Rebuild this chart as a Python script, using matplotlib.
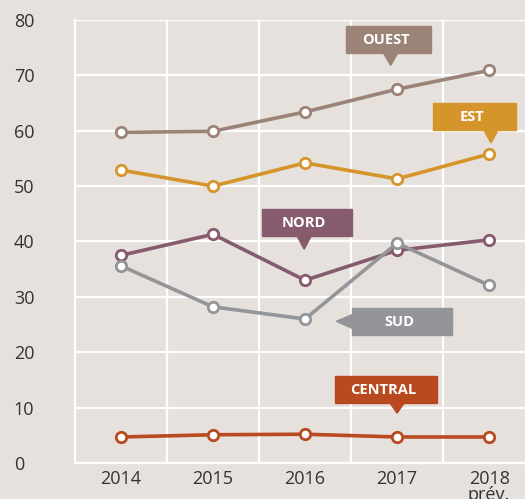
import numpy as np
import matplotlib.pyplot as plt
from matplotlib.patches import Polygon

annees = ["2014", "2015", "2016", "2017", "2018\nprév."]
ouest = [59.7, 59.9, 63.4, 67.5, 70.9]
est = [52.9, 50.0, 54.2, 51.3, 55.8]
nord = [37.5, 41.3, 33.0, 38.4, 40.3]
sud = [35.6, 28.2, 26.0, 39.7, 32.1]
central = [4.7, 5.1, 5.2, 4.7, 4.7]

fond = "#e6e1dd"
couleurs = {"OUEST": "#9b8477", "EST": "#d6952b", "NORD": "#855b6d",
            "SUD": "#939598", "CENTRAL": "#b94a1f"}
series = {"OUEST": ouest, "EST": est, "NORD": nord, "SUD": sud, "CENTRAL": central}

# position des étiquettes : (x0, x1, y0, y1, pointe_x, pointe_y, sens)
etiquettes = {
    "OUEST": (2.45, 3.37, 74.0, 78.9, 2.93, 71.8, "bas"),
    "EST": (3.39, 4.29, 60.1, 65.0, 4.02, 57.8, "bas"),
    "NORD": (1.53, 2.51, 41.0, 45.8, 1.99, 38.6, "bas"),
    "SUD": (2.51, 3.60, 23.1, 28.0, 2.34, 25.6, "gauche"),
    "CENTRAL": (2.32, 3.43, 10.8, 15.7, 3.0, 9.0, "bas"),
}

plt.rcParams['font.family'] = ['Open Sans', 'DejaVu Sans']

fig = plt.figure(figsize=(5.25, 4.99), dpi=100)
fig.patch.set_facecolor(fond)
ax = fig.add_axes([75 / 525, 1 - 463 / 499, 450 / 525, 443 / 499])
ax.set_facecolor(fond)

x = np.arange(len(annees))
for nom, vals in series.items():
    ax.plot(x, vals, color=couleurs[nom], lw=2.6, marker="o", ms=7.5,
            mfc="white", mec=couleurs[nom], mew=2, zorder=3)

# étiquettes en forme de bulle
for nom, (x0, x1, y0, y1, px, py, sens) in etiquettes.items():
    c = couleurs[nom]
    ax.add_patch(plt.Rectangle((x0, y0), x1 - x0, y1 - y0, color=c, zorder=4, clip_on=False))
    if sens == "bas":
        tri = [(px - 0.08, y0 + 0.1), (px + 0.08, y0 + 0.1), (px, py)]
    else:
        tri = [(x0 + 0.01, (y0 + y1) / 2 + 1.3), (x0 + 0.01, (y0 + y1) / 2 - 1.3), (px, py)]
    ax.add_patch(Polygon(tri, closed=True, color=c, zorder=4, clip_on=False))
    ax.text((x0 + x1) / 2 - 0.03, (y0 + y1) / 2, nom, color="white", fontsize=10.5,
            fontweight="bold", ha="center", va="center", zorder=5)

ax.set_yticks(range(0, 81, 10))
ax.set_xticks(x)
ax.set_xticklabels(annees, fontsize=13, color="#333333", linespacing=0.85, va="top")
ax.set_xticks(np.arange(-0.5, 5, 1), minor=True)
ax.set_yticklabels([str(v) for v in range(0, 81, 10)], fontsize=13, color="#333333", ha="left")
ax.set_xlim(-0.5, 4.39)
ax.set_ylim(0, 80)
ax.tick_params(axis="y", length=0, pad=44)
ax.tick_params(axis="x", which="both", length=0, pad=5)
ax.grid(True, which="minor", axis="x", color="white", lw=1.6)
ax.grid(True, which="major", axis="y", color="white", lw=1.6)
for s in ["top", "right"]:
    ax.spines[s].set_visible(False)
for s in ["left", "bottom"]:
    ax.spines[s].set_color("white")
    ax.spines[s].set_linewidth(1.6)
ax.set_axisbelow(True)

fig.savefig("out.png", dpi=100, facecolor=fond)
